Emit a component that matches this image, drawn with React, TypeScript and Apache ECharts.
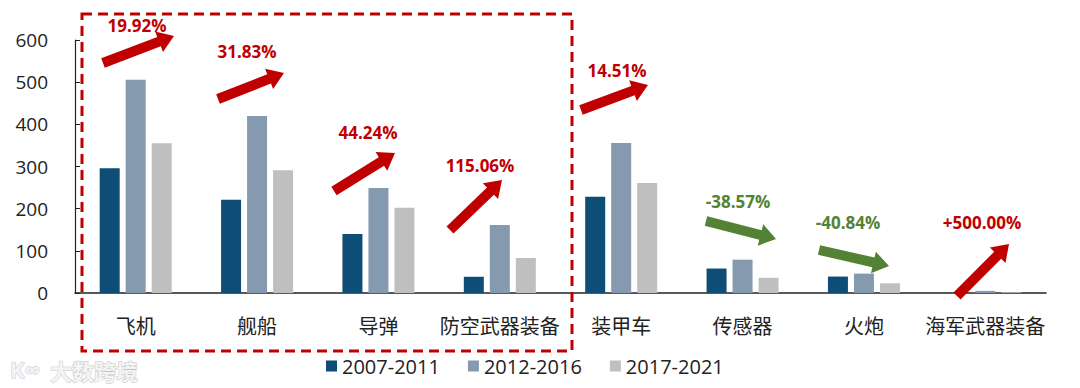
import React, { useEffect, useRef } from "react";
import * as echarts from "echarts";

const categories = ["飞机", "舰船", "导弹", "防空武器装备", "装甲车", "传感器", "火炮", "海军武器装备"];
const seriesNames = ["2007-2011", "2012-2016", "2017-2021"];
const values2007 = [296, 221, 140, 38.5, 228, 58, 39, 0.3];
const values2012 = [506, 420, 249, 161, 356, 79, 46, 5];
const values2017 = [355, 291, 202, 83, 261, 36, 23, 1.8];
const yTicks = [0, 100, 200, 300, 400, 500, 600];
const growthLabels = ["19.92%", "31.83%", "44.24%", "115.06%", "14.51%", "-38.57%", "-40.84%", "+500.00%"];

const RED = "#C00000";
const GREEN = "#548235";
const FONT = "'Open Sans', 'Noto Sans CJK SC', sans-serif";

// annotation arrows (pixel layout): tail x,y -> tip x,y ; label center
const arrowLayout = [
  { t: [103, 63], h: [174, 36], l: [137, 25], c: RED },
  { t: [218, 99], h: [284, 73], l: [247, 51], c: RED },
  { t: [334, 191], h: [395, 153], l: [368, 132], c: RED },
  { t: [450, 230], h: [502, 180], l: [480, 165], c: RED },
  { t: [581, 110], h: [648, 85], l: [617, 70], c: RED },
  { t: [706, 221], h: [776, 239], l: [738, 201], c: GREEN },
  { t: [819, 250], h: [889, 266], l: [848, 222], c: GREEN },
  { t: [957, 296], h: [1009, 244], l: [982, 222], c: RED },
];

function arrowPoints(t: number[], h: number[], sw = 10, hw = 22, hl = 16) {
  const dx = h[0] - t[0];
  const dy = h[1] - t[1];
  const L = Math.hypot(dx, dy);
  const ux = dx / L, uy = dy / L;
  const px = -uy, py = ux;
  const bx = h[0] - ux * hl, by = h[1] - uy * hl;
  return [
    [t[0] + (px * sw) / 2, t[1] + (py * sw) / 2],
    [bx + (px * sw) / 2, by + (py * sw) / 2],
    [bx + (px * hw) / 2, by + (py * hw) / 2],
    [h[0], h[1]],
    [bx - (px * hw) / 2, by - (py * hw) / 2],
    [bx - (px * sw) / 2, by - (py * sw) / 2],
    [t[0] - (px * sw) / 2, t[1] - (py * sw) / 2],
  ];
}

export default function App() {
  const ref = useRef<HTMLDivElement>(null);
  useEffect(() => {
    document.body.style.margin = "0";
    const chart = echarts.init(ref.current!, null, { renderer: "svg" });
    const graphics: any[] = [];
    arrowLayout.forEach((a, i) => {
      graphics.push({
        type: "polygon",
        shape: { points: arrowPoints(a.t, a.h) },
        style: { fill: a.c },
        z: 10,
      });
      graphics.push({
        type: "text",
        x: a.l[0],
        y: a.l[1],
        style: {
          text: growthLabels[i],
          fill: a.c,
          font: `bold 17px ${FONT}`,
          textAlign: "center",
          textVerticalAlign: "middle",
        },
        z: 10,
      });
    });
    graphics.push({
      type: "rect",
      shape: { x: 82, y: 14, width: 490, height: 337 },
      style: { fill: null, stroke: RED, lineWidth: 3, lineDash: [10, 6] },
      z: 10,
    });
    graphics.push({
      type: "text",
      x: 50,
      y: 370,
      style: {
        text: "大数跨境",
        fill: "#f4f4f4",
        stroke: "#c4c4c4",
        lineWidth: 1,
        font: `bold 22px 'Noto Sans CJK SC', sans-serif`,
        textVerticalAlign: "middle",
      },
      z: 10,
    });
    graphics.push({
      type: "text",
      x: 10,
      y: 369,
      style: {
        text: "K∞",
        fill: "#f4f4f4",
        stroke: "#c4c4c4",
        lineWidth: 1,
        font: `bold 22px ${FONT}`,
        textVerticalAlign: "middle",
      },
      z: 10,
    });

    const mkSeries = (name: string, data: number[], color: string) => ({
      name,
      type: "bar",
      data,
      barWidth: 20,
      barGap: "30%",
      itemStyle: { color },
    });

    chart.setOption({
      animation: false,
      backgroundColor: "#ffffff",
      grid: { left: 75, right: 34, top: 40, bottom: 95, containLabel: false },
      legend: {
        left: 326,
        top: 356,
        padding: 0,
        itemWidth: 11,
        itemHeight: 11,
        itemGap: 28,
        icon: "rect",
        textStyle: { fontSize: 20, color: "#222", fontFamily: FONT },
        data: seriesNames,
      },
      xAxis: {
        type: "category",
        data: categories,
        axisLine: { lineStyle: { color: "#222", width: 1.5 } },
        axisTick: { show: false },
        axisLabel: { fontSize: 20, color: "#222", fontFamily: FONT, margin: 23, interval: 0 },
      },
      yAxis: {
        type: "value",
        min: yTicks[0],
        max: yTicks[yTicks.length - 1],
        interval: 100,
        splitLine: { show: false },
        axisLine: { show: true, lineStyle: { color: "#222", width: 1.2 } },
        axisTick: { show: true, inside: true, length: 5, lineStyle: { color: "#222" } },
        axisLabel: { fontSize: 19, color: "#222", fontFamily: FONT, margin: 27 },
      },
      series: [
        mkSeries(seriesNames[0], values2007, "#0E4D76"),
        mkSeries(seriesNames[1], values2012, "#8599AF"),
        mkSeries(seriesNames[2], values2017, "#BFBFBF"),
      ],
      graphic: graphics,
    });
    return () => chart.dispose();
  }, []);
  return <div ref={ref} style={{ width: 1080, height: 388 }} />;
}
